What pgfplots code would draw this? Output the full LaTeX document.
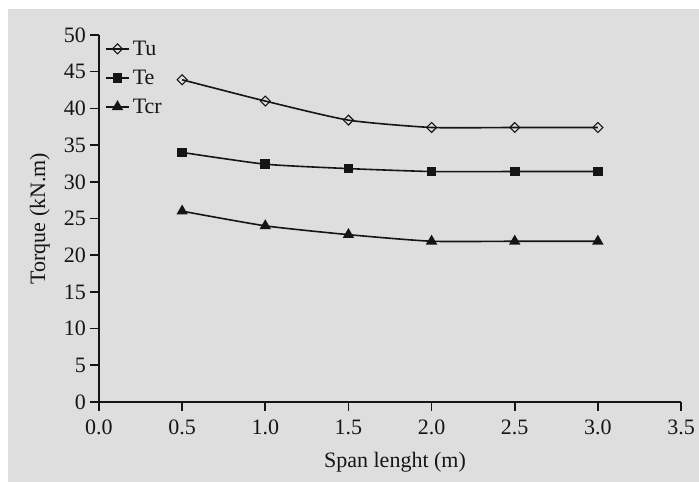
\documentclass[border=0pt]{standalone}
\usepackage{pgfplots}
\pgfplotsset{compat=1.18}
\usepackage{fontspec}
\setmainfont{Liberation Serif}
\definecolor{bg}{HTML}{DEDEDE}
\definecolor{ink}{HTML}{151515}
\begin{document}
\begin{tikzpicture}[x=1pt,y=1pt]
\fill[white] (0,0) rectangle (699,482);
\fill[bg] (8,0) rectangle (699,473);
\begin{axis}[
  at={(99pt,80pt)}, anchor=south west,
  scale only axis, width=582pt, height=367pt,
  xmin=0, xmax=3.5, ymin=0, ymax=50,
  axis lines=left,
  axis line style={-, line width=2.2pt, ink},
  every tick/.style={ink, line width=1.6pt},
  tick align=outside, major tick length=9pt,
  xtick={0,0.5,...,3.5}, ytick={0,5,...,50},
  /pgf/number format/assume math mode=true,
  tick label style={font=\fontsize{22}{25}\selectfont, text=ink},
  xticklabel style={/pgf/number format/fixed, /pgf/number format/fixed zerofill, /pgf/number format/precision=1},
  xticklabel style={anchor=north, inner sep=0pt, yshift=-9pt},
  yticklabel style={anchor=east, inner sep=0pt, xshift=-4pt},
  xlabel={Span lenght (m)},
  ylabel={Torque (kN.m)},
  every axis x label/.style={at={(axis description cs:0.5086,-0.1362)}, anchor=north, inner sep=0pt,
    font=\fontsize{22}{25}\selectfont, text=ink},
  every axis y label/.style={at={(axis description cs:-0.0842,0.5)}, rotate=90, anchor=south, inner sep=0pt,
    font=\fontsize{22}{25}\selectfont, text=ink},
  legend style={at={(0.0103,0.9925)}, anchor=north west, draw=none, fill=none,
    inner sep=0pt, row sep=7pt, font=\fontsize{22}{25}\selectfont, text=ink,
    nodes={inner sep=3pt}},
  legend cell align=left,
  legend image code/.code={\draw[mark repeat=2,mark phase=2,#1] plot coordinates {(0pt,0pt) (11.5pt,0pt) (23pt,0pt)};},
  every axis plot/.append style={ink, line width=1.6pt, smooth, tension=0.35},
]
\addplot[mark=square, mark size=3.5pt, mark options={rotate=45, fill=white, solid, line width=1.1pt}]
  coordinates {(0.5,43.9) (1.0,41.0) (1.5,38.4) (2.0,37.4) (2.5,37.4) (3.0,37.4)};
\addlegendentry{Tu}
\addplot[mark=square*, mark size=4pt, mark options={solid}]
  coordinates {(0.5,34.0) (1.0,32.4) (1.5,31.8) (2.0,31.4) (2.5,31.4) (3.0,31.4)};
\addlegendentry{Te}
\addplot[mark=triangle*, mark size=5pt, mark options={solid}]
  coordinates {(0.5,26.0) (1.0,24.0) (1.5,22.8) (2.0,21.9) (2.5,21.9) (3.0,21.9)};
\addlegendentry{Tcr}
\end{axis}
\end{tikzpicture}
\end{document}
